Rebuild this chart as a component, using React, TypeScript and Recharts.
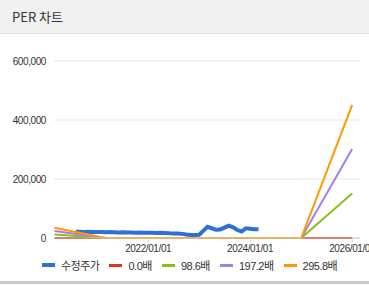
import React from 'react';
import { LineChart, Line, XAxis, YAxis, CartesianGrid, Legend } from 'recharts';

// 수정주가 (monthly)
const priceDates = [
  '2020-08-01', '2020-09-01', '2020-10-01', '2020-11-01', '2020-12-01',
  '2021-01-01', '2021-02-01', '2021-03-01', '2021-04-01', '2021-05-01', '2021-06-01',
  '2021-07-01', '2021-08-01', '2021-09-01', '2021-10-01', '2021-11-01', '2021-12-01',
  '2022-01-01', '2022-02-01', '2022-03-01', '2022-04-01', '2022-05-01', '2022-06-01',
  '2022-07-01', '2022-08-01', '2022-09-01', '2022-10-01', '2022-11-01', '2022-12-01',
  '2023-01-01', '2023-02-01', '2023-03-01', '2023-04-01', '2023-05-01', '2023-06-01',
  '2023-07-01', '2023-08-01', '2023-09-01', '2023-10-01', '2023-11-01', '2023-12-01',
  '2024-01-01', '2024-02-01', '2024-03-01',
];
const priceValues = [
  21000, 21500, 20500, 21000, 20000,
  20000, 20500, 19500, 20000, 19500, 19000,
  19500, 19000, 18500, 18000, 18500, 18000,
  18000, 17500, 17000, 18000, 17000, 16000,
  15500, 15000, 14000, 12000, 10500, 10000,
  11000, 25000, 38000, 33000, 28000, 29000,
  35000, 42000, 36000, 27000, 22000, 33000,
  31000, 30000, 30000,
];

// PER band lines
const perDates = ['2020-03-01', '2021-03-01', '2022-03-01', '2023-03-01', '2024-03-01', '2025-01-01', '2026-01-01'];
const per0 = [0, 0, 0, 0, 0, 0, 0];
const per98 = [12000, 0, 0, 0, 0, 0, 151000];
const per197 = [24000, 0, 0, 0, 0, 0, 302000];
const per295 = [35000, 0, 0, 0, 0, 0, 451000];

const yTicks = [0, 200000, 400000, 600000];
const xTickLabels = ['2022-01-01', '2024-01-01', '2026-01-01'];

const toTime = (d: string) => new Date(d + 'T00:00:00Z').getTime();
const makeSeries = (dates: string[], vals: number[]) => dates.map((d, i) => ({ t: toTime(d), v: vals[i] }));

const priceData = makeSeries(priceDates, priceValues);
const per0Data = makeSeries(perDates, per0);
const per98Data = makeSeries(perDates, per98);
const per197Data = makeSeries(perDates, per197);
const per295Data = makeSeries(perDates, per295);

const xDomain = [Date.UTC(2020, 1, 26), Date.UTC(2026, 1, 26)];

const FONT = "Arial, 'Liberation Sans', 'Noto Sans CJK KR', sans-serif";

const legendItems = [
  { name: '수정주가', color: '#2e6fd9', h: 4 },
  { name: '0.0배', color: '#d9391a', h: 3 },
  { name: '98.6배', color: '#84c21a', h: 3 },
  { name: '197.2배', color: '#a57fe4', h: 3 },
  { name: '295.8배', color: '#ff9800', h: 3 },
];

const fmtDate = (t: number) => {
  const d = new Date(t);
  const mm = String(d.getUTCMonth() + 1).padStart(2, '0');
  const dd = String(d.getUTCDate()).padStart(2, '0');
  return `${d.getUTCFullYear()}/${mm}/${dd}`;
};

const tickStyle = { fill: '#333', fontSize: 10, fontFamily: FONT, letterSpacing: -0.4 };

const renderLegend = () => (
  <div
    style={{
      display: 'flex',
      alignItems: 'center',
      height: 20,
      width: 369,
      boxSizing: 'border-box',
      paddingLeft: 42,
      whiteSpace: 'nowrap',
      fontFamily: FONT,
      fontSize: 11,
      letterSpacing: -0.5,
      color: '#333',
    }}
  >
    {legendItems.map((it) => (
      <div key={it.name} style={{ display: 'flex', alignItems: 'center', marginRight: 10, flexShrink: 0 }}>
        <span style={{ display: 'inline-block', width: 13, height: it.h, background: it.color, marginRight: 6 }} />
        <span>{it.name}</span>
      </div>
    ))}
  </div>
);

export default function App() {
  return (
    <div style={{ position: 'absolute', top: 0, left: 0, width: 369, height: 303, background: '#fff', overflow: 'hidden' }}>
      <div
        style={{
          height: 33,
          background: '#f0f0f0',
          borderBottom: '1px solid #dedede',
          fontFamily: "'Noto Sans CJK KR', sans-serif",
          fontSize: 13,
          color: '#333',
          lineHeight: '33px',
          paddingLeft: 12,
        }}
      >
        PER 차트
      </div>
      <div style={{ position: 'absolute', top: 34, left: 0 }}>
        <LineChart width={369} height={248} margin={{ top: 27, right: 9, left: 0, bottom: 7 }}>
          <CartesianGrid vertical={false} stroke="#e6e6e6" />
          <XAxis
            dataKey="t"
            type="number"
            domain={xDomain}
            allowDataOverflow
            ticks={xTickLabels.map(toTime)}
            tickFormatter={fmtDate}
            interval={0}
            height={17}
            tickSize={5}
            tickMargin={2}
            axisLine={{ stroke: '#cccccc' }}
            tickLine={{ stroke: '#c9d5e2' }}
            tick={tickStyle}
          />
          <YAxis
            type="number"
            domain={[0, 600000]}
            ticks={yTicks}
            tickFormatter={(v: number) => v.toLocaleString('en-US')}
            width={54}
            axisLine={false}
            tickLine={false}
            tick={tickStyle}
          />
          <Legend
            verticalAlign="bottom"
            align="left"
            content={renderLegend}
            wrapperStyle={{ left: 0, width: 369, height: 20 }}
          />
          <Line data={priceData} dataKey="v" name="수정주가" stroke="#2e6fd9" strokeWidth={4} dot={false} isAnimationActive={false} />
          <Line data={per0Data} dataKey="v" name="0.0배" stroke="#d9391a" strokeWidth={2} dot={false} isAnimationActive={false} />
          <Line data={per98Data} dataKey="v" name="98.6배" stroke="#84c21a" strokeWidth={2} dot={false} isAnimationActive={false} />
          <Line data={per197Data} dataKey="v" name="197.2배" stroke="#a57fe4" strokeWidth={2} dot={false} isAnimationActive={false} />
          <Line data={per295Data} dataKey="v" name="295.8배" stroke="#ff9800" strokeWidth={2} dot={false} isAnimationActive={false} />
        </LineChart>
      </div>
      <div style={{ position: 'absolute', top: 281, left: 0, width: 369, height: 3, background: '#c8c8c8' }} />
    </div>
  );
}
